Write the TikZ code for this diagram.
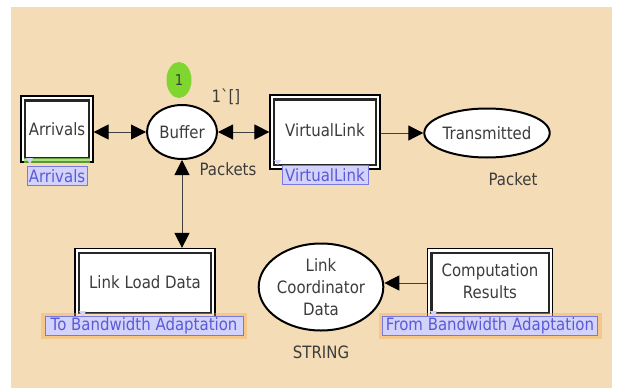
\documentclass[tikz,border=0pt]{standalone}
\usepackage{fontspec}
\setmainfont{DejaVu Sans}[FakeStretch=0.88]
\newfontfamily\rawfont{DejaVu Sans}[FakeStretch=0.88]
\usetikzlibrary{arrows.meta,shapes.geometric}
\definecolor{tanbg}{HTML}{F4DDB6}
\definecolor{txt}{HTML}{3C3C3C}
\definecolor{tagfill}{HTML}{D2D2FA}
\definecolor{tagline}{HTML}{7878E0}
\definecolor{tagtxt}{HTML}{5A5AD8}
\definecolor{glowor}{HTML}{F6A64A}
\definecolor{glowgr}{HTML}{86D64A}
\definecolor{tokgreen}{HTML}{7ED62E}
\definecolor{arc}{HTML}{404040}
\tikzset{
  every node/.style={font=\fontsize{17}{19}\selectfont, text=txt},
  subst/.style={draw=black, line width=1.2pt, fill=white, rectangle, inner sep=0pt},
  place/.style={draw=black, line width=2pt, fill=white, ellipse, inner sep=0pt},
  tag/.style={draw=tagline, line width=1pt, fill=tagfill, text=tagtxt, inner sep=1pt, minimum height=19pt},
  lbl/.style={text=txt},
  arcline/.style={draw=arc, line width=1pt},
  hd/.tip={Triangle[length=15pt,width=15pt,color=black,fill=black]},
}
\newcommand{\innerbox}[1]{\draw[line width=2.2pt, draw=black!85] ([shift={(4.5pt,-5pt)}]#1.north west) rectangle ([shift={(-4.5pt,5pt)}]#1.south east);}
\begin{document}
\begin{tikzpicture}[x=1pt,y=-1pt]
\useasboundingbox (0,0) rectangle (618,388);
\fill[tanbg] (11,7) rectangle (612,388);

% substitution transitions
\node[subst, minimum width=72pt, minimum height=66pt] (arr) at (57,129) {};
\innerbox{arr}
\node at (arr) {Arrivals};
\node[subst, minimum width=110pt, minimum height=74pt] (vl) at (325,132) {};
\innerbox{vl}
\node at ([yshift=2pt]vl) {VirtualLink};
\node[subst, minimum width=140pt, minimum height=69pt] (lld) at (145,283) {};
\innerbox{lld}
\node at ([yshift=1pt]lld) {Link Load Data};
\node[subst, minimum width=125pt, minimum height=69pt] (cr) at (490,283) {};
\innerbox{cr}
\node[align=center, font=\fontsize{17}{22}\selectfont] at ([yshift=2pt]cr) {Computation\\Results};

% places
\node[place, minimum width=70pt, minimum height=54pt] (buf) at (182,132) {Buffer};
\node[place, minimum width=106pt, minimum height=49pt] (tr) at (487,133) {Transmitted};
\node[place, minimum width=122pt, minimum height=87pt, align=center, font=\fontsize{17}{22}\selectfont] (lcd) at (321,287) {Link\\Coordinator\\Data};

% token
\node[ellipse, fill=tokgreen, minimum width=25pt, minimum height=36pt, inner sep=0pt, font=\fontsize{15}{17}\selectfont] (tok) at (179,80) {1};

% labels
\node[lbl] (mark) at (226,97) {{\rawfont 1`[]}};
\node[lbl] (pk1) at (228,169) {Packets};
\node[lbl] (pk2) at (513,179) {Packet};
\node[lbl] (str) at (321,352) {STRING};

% tags
\fill[glowgr, opacity=0.7] (24,158) rectangle (90,163);
\fill[glowor, opacity=0.4] (41,313) rectangle (247,339);
\fill[glowor, opacity=0.4] (379,313) rectangle (602,339);
\fill[tagfill] (26,158) -- (33,158) -- (30,164) -- cycle;
\fill[tagfill] (79,311) -- (86,311) -- (83,318) -- cycle;
\fill[tagfill] (430,311) -- (437,311) -- (434,318) -- cycle;
\fill[tagfill] (274,160) -- (281,160) -- (278,165) -- cycle;
\node[tag, minimum width=60pt] (arrtag) at (57,176) {Arrivals};
\node[tag, minimum width=86pt] (vltag) at (325,175) {VirtualLink};
\node[tag, minimum width=198pt] (lldtag) at (144,326) {To Bandwidth Adaptation};
\node[tag, minimum width=215pt] (crtag) at (490,326) {From Bandwidth Adaptation};

% arcs
\draw[arcline, hd-hd] (arr.east |- buf.west) -- (buf.west);
\draw[arcline, hd-hd] (buf.east) -- (vl.west |- buf.east);
\draw[arcline, -hd] (vl.east |- tr.west) -- (tr.west);
\draw[arcline, hd-hd] (buf.south) -- (buf.south |- lld.north);
\draw[arcline, -hd] (cr.west) -- (lcd.east |- cr.west);
\end{tikzpicture}
\end{document}
